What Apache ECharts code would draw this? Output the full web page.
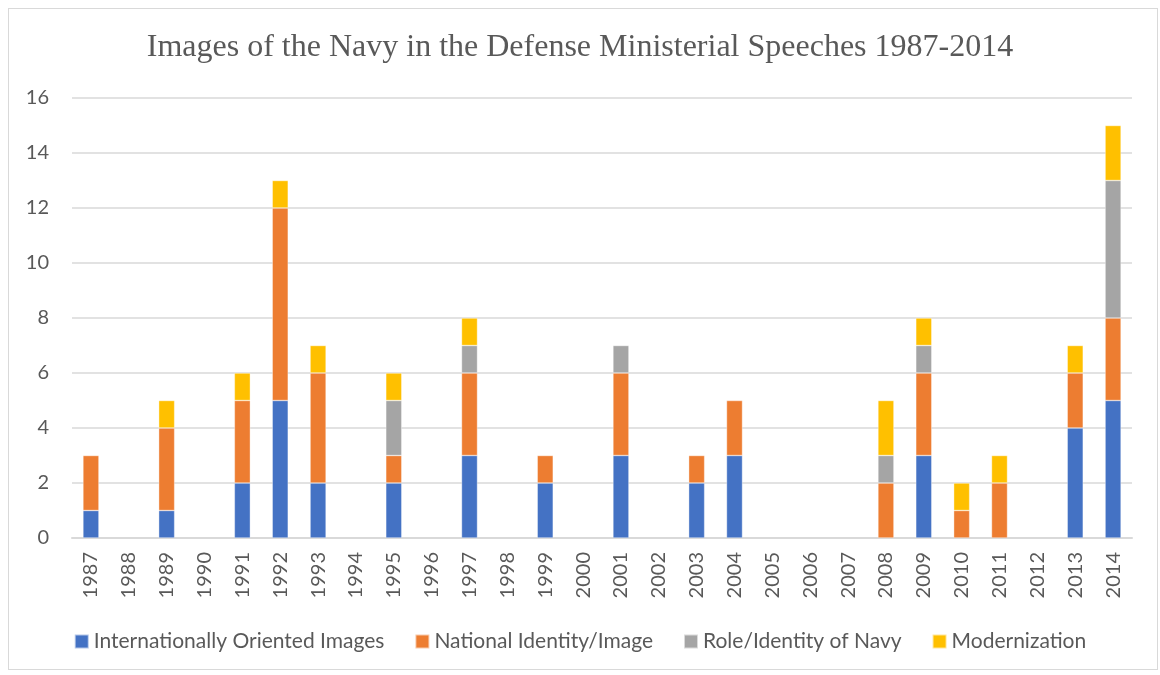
<!DOCTYPE html>
<html>
<head>
<meta charset="utf-8">
<script src="https://cdn.jsdelivr.net/npm/echarts@6/dist/echarts.min.js"></script>
<style>
  html, body { margin: 0; padding: 0; background: #fff; }
  #frame { position: absolute; left: 8px; top: 8px; width: 1150px; height: 662px;
           border: 1px solid #d9d9d9; box-sizing: border-box; }
  #chart { position: absolute; left: 0; top: 0; width: 1160px; height: 675px; }
</style>
</head>
<body>
<div id="frame"></div>
<div id="chart"></div>
<script>
  // 年份
  var years = ['1987','1988','1989','1990','1991','1992','1993','1994','1995','1996',
               '1997','1998','1999','2000','2001','2002','2003','2004','2005','2006',
               '2007','2008','2009','2010','2011','2012','2013','2014'];
  var intlImages   = [1,0,1,0,2,5,2,0,2,0,3,0,2,0,3,0,2,3,0,0,0,0,3,0,0,0,4,5];
  var nationalId   = [2,0,3,0,3,7,4,0,1,0,3,0,1,0,3,0,1,2,0,0,0,2,3,1,2,0,2,3];
  var roleOfNavy   = [0,0,0,0,0,0,0,0,2,0,1,0,0,0,1,0,0,0,0,0,0,1,1,0,0,0,0,5];
  var modernization= [0,0,1,0,1,1,1,0,1,0,1,0,0,0,0,0,0,0,0,0,0,2,1,1,1,0,1,2];
  var seriesNames = ['Internationally Oriented Images','National Identity/Image','Role/Identity of Navy','Modernization'];
  var colors = ['#4472c4','#ed7d31','#a5a5a5','#ffc000'];

  var font = 'Lato, "Open Sans", sans-serif';
  var chart = echarts.init(document.getElementById('chart'));

  function makeSeries(name, data) {
    return {
      name: name,
      type: 'bar',
      stack: 'total',
      barWidth: 16,
      data: data.map(function (v) { return v === 0 ? null : v; }),
      itemStyle: { borderColor: 'rgba(255,255,255,0.6)', borderWidth: 0.6 }
    };
  }

  var option = {
    color: colors,
    animation: false,
    title: {
      text: 'Images of the Navy in the Defense Ministerial Speeches 1987-2014',
      left: 'center',
      top: 27,
      textStyle: { fontFamily: '"Liberation Serif", serif', fontWeight: 'normal', fontSize: 32, color: '#595959' }
    },
    legend: {
      data: seriesNames,
      bottom: 18,
      left: 'center',
      itemWidth: 14,
      itemHeight: 14,
      itemGap: 30,
      icon: 'rect',
      textStyle: { fontFamily: font, fontSize: 21, color: '#595959' }
    },
    grid: { left: 72, right: 28, top: 98, bottom: 137 },
    xAxis: {
      type: 'category',
      data: years,
      axisLine: { lineStyle: { color: '#d9d9d9', width: 2 } },
      axisTick: { show: false },
      axisLabel: { rotate: 90, interval: 0, margin: 14, fontFamily: font, fontSize: 20, color: '#595959' }
    },
    yAxis: {
      type: 'value',
      min: 0,
      max: 16,
      interval: 2,
      axisLine: { show: false },
      axisTick: { show: false },
      axisLabel: { margin: 23, fontFamily: font, fontSize: 20, color: '#595959' },
      splitLine: { lineStyle: { color: '#d9d9d9', width: 1.5 } }
    },
    series: [
      makeSeries(seriesNames[0], intlImages),
      makeSeries(seriesNames[1], nationalId),
      makeSeries(seriesNames[2], roleOfNavy),
      makeSeries(seriesNames[3], modernization)
    ]
  };
  chart.setOption(option);
</script>
</body>
</html>
